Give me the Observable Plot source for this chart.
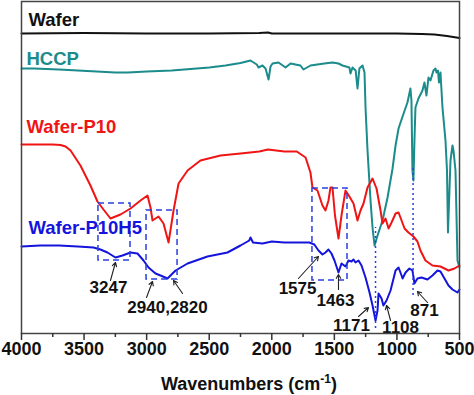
<!DOCTYPE html>
<html><head><meta charset="utf-8">
<script src="https://cdn.jsdelivr.net/npm/d3@7"></script>
<script src="https://cdn.jsdelivr.net/npm/@observablehq/plot@0.6"></script>
<style>body{margin:0;background:#fff}</style>
</head><body><div id="chart"></div>
<script>
// wavenumbers (cm-1) and transmittance (a.u., offset stacked)
const waferWn = [4000,3500,3000,2500,2100,2030,2000,1500,1000,800,700,600,500];
const waferT  = [300,300.5,300,300,300.5,301,300,300,300,299.5,299,297.5,295.5];

const hccpWn = [4000,3900,3700,3550,3400,3250,3150,3000,2800,2650,2500,2370,2250,2170,2120,2106,2074,2050,2026,2010,1994,1946,1890,1850,1771,1747,1691,1580,1515,1467,1435,1380,1371,1355,1330,1315,1300,1275,1259,1251,1235,1211,1195,1179,1155,1131,1115,1075,1035,1011,987,955,916,892,884,876,868,860,852,828,796,780,764,748,732,708,692,684,672,664,652,636,612,600,592,572,556,548,532,516,500];
const hccpT  = [265,265,264,263,262,261,261,262,263,264.5,266,268,270.5,273,269,266,268,265,254,267,270,271,266,270,268,264,268,270,271,270,268,266,260,266,263,245,265,268,261,226,183,133,106,88,98,107,113,136,165,188,205,217,231,245,233,163,153,193,226,235,243,251,238,256,253,263,265,261,263,251,261,226,193,163,101,173,188,183,163,73,66];

const p10Wn = [4000,3900,3750,3688,3648,3608,3529,3449,3393,3369,3345,3289,3249,3209,3129,3049,2993,2969,2953,2929,2905,2865,2825,2785,2745,2673,2570,2410,2250,2100,2030,1900,1800,1730,1691,1675,1635,1595,1571,1547,1531,1515,1495,1467,1443,1411,1380,1347,1315,1291,1267,1235,1195,1163,1131,1115,1091,1067,1043,1011,987,963,939,908,868,836,812,772,716,652,588,540,500];
const p10T  = [189,189,189,188.5,187,183,168,148,132,128,124,115,117,119,125,133,138,126,113,115,117,110,91,123,150,163,173,178,180,182,184,182,182,176,161,146,143,128,123,133,146,146,118,95,118,143,137,130,113,123,130,146,155,145,123,110,115,105,111,120,121,113,105,101,97,92,83,73,68,67,63,65,68];

const p10h5Wn = [4000,3850,3700,3550,3425,3369,3313,3249,3193,3129,3073,3025,2985,2929,2889,2833,2769,2673,2514,2354,2250,2180,2170,2150,2074,2000,1900,1800,1700,1660,1627,1595,1571,1547,1523,1499,1467,1443,1411,1387,1363,1347,1331,1307,1283,1251,1219,1195,1171,1155,1147,1123,1108,1083,1051,1011,987,963,955,931,900,876,860,836,804,756,716,676,652,620,588,556,516,500];
const p10h5T  = [87,88,88,87,86,84,81,76,78,81,80,73,66,60,58,55,63,70,77,81,88,93,96,91,90,92,91,91,91,89,83,79,81,84,80,73,61,70,67,73,72,74,71,73,68,56,41,28,13,23,40,35,28,33,43,63,66,58,55,61,65,63,50,55,56,54,58,63,62,55,48,44,41,44];

const seriesNames = ["Wafer","HCCP","Wafer-P10","Wafer-P10H5"];
const seriesColors = ["#111111","#1b8b8b","#f01515","#1414dc"];
const labelWn = [3944,3960,3960,3944];
const labelT  = [313,274,206,105];

// dashed boxes
const boxWn1 = [3385,3001,1675];
const boxWn2 = [3129,2753,1395];
const boxT1  = [73,54,53];
const boxT2  = [130,123,145];

// dotted guide lines
const guideWn = [1171,871];
const guideT1 = [5,38];
const guideT2 = [106,165];

// peak annotations
const peakText = ["3247","2940,2820","1575","1463","1171","1108","871"];
const peakTextWn = [3305,2833,1794,1491,1363,971,780];
const peakTextT  = [46,26,45,33,8,6,23];
const arrowWn1 = [3289,3001,2713,1787,1467,1307,1051,756];
const arrowT1  = [53,36,40,55,44,17,13,31];
const arrowWn2 = [3249,2953,2785,1627,1467,1227,1083,836];
const arrowT2  = [71,52,53,77,59,26,28,42];

const majorTicks = [4000,3500,3000,2500,2000,1500,1000,500];
const minorTicks = [3750,3250,2750,2250,1750,1250,750];

const mk = (w, t, s) => w.map((x, i) => ({wn: x, t: t[i], s}));
const lines = [
  ...mk(waferWn, waferT, "Wafer"),
  ...mk(hccpWn, hccpT, "HCCP"),
  ...mk(p10Wn, p10T, "Wafer-P10"),
  ...mk(p10h5Wn, p10h5T, "Wafer-P10H5")
];
const labels = seriesNames.map((s, i) => ({s, wn: labelWn[i], t: labelT[i]}));
const boxes = boxWn1.map((w, i) => ({x1: w, x2: boxWn2[i], y1: boxT1[i], y2: boxT2[i]}));
const guides = guideWn.map((w, i) => ({x: w, y1: guideT1[i], y2: guideT2[i]}));
const ptexts = peakText.map((s, i) => ({s, wn: peakTextWn[i], t: peakTextT[i]}));
const arrows = arrowWn1.map((w, i) => ({x1: w, y1: arrowT1[i], x2: arrowWn2[i], y2: arrowT2[i]}));
const blue = "#2a3fe0";
const font = "'Liberation Sans', Arial, sans-serif";

const svg = Plot.plot({
  width: 474, height: 395,
  marginLeft: 21, marginRight: 15, marginTop: 1, marginBottom: 62,
  style: {fontFamily: font, fontSize: "18px", fontWeight: "bold", background: "#fff", color: "#111"},
  x: {domain: [4000, 500]},
  y: {domain: [0, 332], axis: null},
  color: {domain: seriesNames, range: seriesColors},
  marks: [
    Plot.line(lines, {x: "wn", y: "t", z: "s", stroke: "s", strokeWidth: 2}),
    Plot.rect(boxes, {x1: "x1", x2: "x2", y1: "y1", y2: "y2", fill: "none", stroke: blue, strokeWidth: 1.5, strokeDasharray: "6,4"}),
    Plot.ruleX(guides, {x: "x", y1: "y1", y2: "y2", stroke: blue, strokeWidth: 1.5, strokeDasharray: "2,3"}),
    Plot.arrow(arrows, {x1: "x1", y1: "y1", x2: "x2", y2: "y2", stroke: "#222", strokeWidth: 1.1, headLength: 6}),
    Plot.text(ptexts, {x: "wn", y: "t", text: "s", fontSize: 17, fontWeight: "bold", fill: "#111"}),
    Plot.text(labels, {x: "wn", y: "t", text: "s", fill: "s", fontSize: 18.5, fontWeight: "bold", textAnchor: "start"}),
    Plot.frame({stroke: "#444", strokeWidth: 1.5}),
    Plot.axisX({ticks: majorTicks, tickSize: 7, tickPadding: 2, tickFormat: "d", label: null, fontSize: 18, fontWeight: "bold", stroke: "#333", strokeWidth: 1.5}),
    Plot.axisX({ticks: minorTicks, tickSize: 4, tickFormat: () => "", label: null, stroke: "#333", strokeWidth: 1.5})
  ]
});

const title = d3.select(svg).append("text")
  .attr("x", 249).attr("y", 390)
  .attr("text-anchor", "middle")
  .attr("font-family", font).attr("font-size", 18).attr("font-weight", "bold").attr("fill", "#111");
title.append("tspan").text("Wavenumbers (cm");
title.append("tspan").attr("dy", -7).attr("font-size", 12).text("-1");
title.append("tspan").attr("dy", 7).text(")");

document.getElementById("chart").appendChild(svg);
</script></body></html>
